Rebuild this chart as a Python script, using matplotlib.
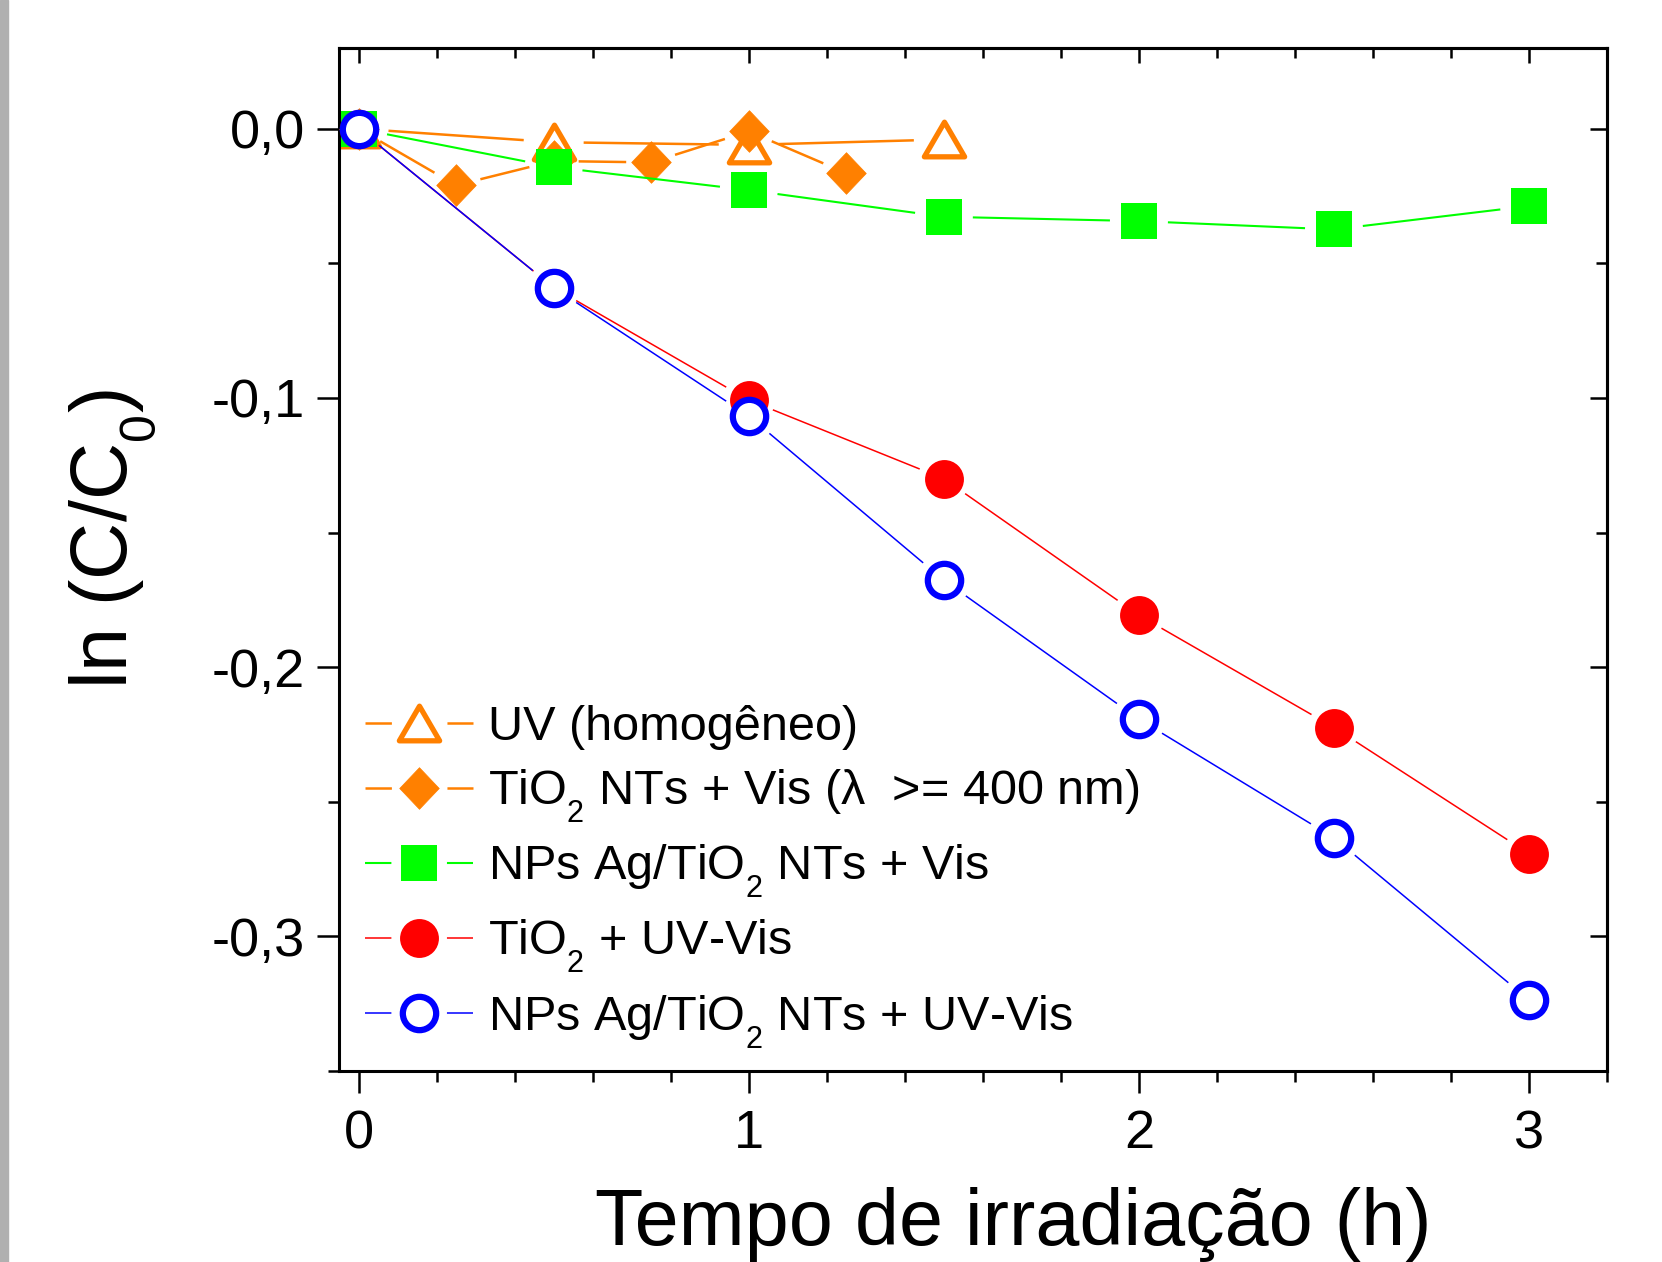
import numpy as np
import matplotlib
matplotlib.use("Agg")
import matplotlib.pyplot as plt
from matplotlib.lines import Line2D
from matplotlib.path import Path
from matplotlib.patches import Rectangle
from matplotlib.ticker import MultipleLocator, FuncFormatter

plt.rcParams['font.family'] = ['Liberation Sans', 'DejaVu Sans']
plt.rcParams['mathtext.fontset'] = 'custom'
plt.rcParams['mathtext.rm'] = 'Liberation Sans'
plt.rcParams['mathtext.it'] = 'Liberation Sans:italic'
plt.rcParams['lines.scale_dashes'] = False

# Origin puts its subscripts smaller and lower than mathtext does
try:
    import matplotlib._mathtext as _mt
    _mt.SHRINK_FACTOR = 0.63
    _mt.FontConstantsBase.sub1 = 0.7
except Exception:
    pass

# values
t_uv = [0, 0.5, 1.0, 1.5]
uv_homog = [0.0, -0.005, -0.006, -0.004]
t_nts_vis = [0, 0.25, 0.5, 0.75, 1.0, 1.25]
nts_vis = [0.0, -0.021, -0.012, -0.0125, -0.001, -0.0165]
t_full = [0, 0.5, 1.0, 1.5, 2.0, 2.5, 3.0]
ag_vis = [0.0, -0.0142, -0.0228, -0.0327, -0.0343, -0.0374, -0.0287]
tio2_uvvis = [0.0, -0.059, -0.1008, -0.130, -0.1807, -0.2224, -0.2693]
ag_uvvis = [0.0, -0.059, -0.1067, -0.1677, -0.2193, -0.2634, -0.3236]

labels = ["UV (homogêneo)",
          r"TiO$_\mathregular{2}$ NTs + Vis (λ  >= 400 nm)",
          r"NPs Ag/TiO$_\mathregular{2}$ NTs + Vis",
          r"TiO$_\mathregular{2}$ + UV-Vis",
          r"NPs Ag/TiO$_\mathregular{2}$ NTs + UV-Vis"]

orange = '#FF8000'
green = '#00FF00'
red = '#FF0000'
blue = '#0000FF'

# marker shapes
tri = Path([(0, 0.86), (-1, -0.86), (1, -0.86), (0, 0.86)],
           [Path.MOVETO, Path.LINETO, Path.LINETO, Path.CLOSEPOLY])
dia = Path([(0, 1), (0.95, 0), (0, -1), (-0.95, 0), (0, 1)],
           [Path.MOVETO, Path.LINETO, Path.LINETO, Path.LINETO, Path.CLOSEPOLY])

fig = plt.figure(figsize=(16.62, 12.62), dpi=100)
fig.patches.append(Rectangle((0, 0), 8 / 1662, 1, transform=fig.transFigure,
                             color='#b0b0b0', zorder=0))
ax = fig.add_axes([0.204, 0.1513, 0.763, 0.8107])
ax.set_xlim(-0.05, 3.2)
ax.set_ylim(-0.35, 0.03)


def gapped(x, y, gap, **kw):
    # Origin style line: segments stop short of the symbols
    pts = ax.transData.transform(np.column_stack([x, y]))
    inv = ax.transData.inverted()
    for p0, p1 in zip(pts[:-1], pts[1:]):
        d = p1 - p0
        L = np.hypot(*d)
        if L <= 2 * gap:
            continue
        u = d / L
        seg = inv.transform([p0 + u * gap, p1 - u * gap])
        ax.plot(seg[:, 0], seg[:, 1], solid_capstyle='butt', **kw)


series = [
    (t_uv, uv_homog, orange, dict(marker=tri, ms=29, mfc='white', mec=orange, mew=3.8), 1.8, 30),
    (t_nts_vis, nts_vis, orange, dict(marker=dia, ms=30, mfc=orange, mec=orange, mew=0.5), 1.8, 25),
    (t_full, ag_vis, green, dict(marker='s', ms=26, mfc=green, mec=green, mew=0), 1.5, 29),
    (t_full, tio2_uvvis, red, dict(marker='o', ms=28, mfc=red, mec=red, mew=0), 1.1, 26),
    (t_full, ag_uvvis, blue, dict(marker='o', ms=24, mfc='white', mec=blue, mew=4.5), 1.1, 27),
]

handles = []
z = 2
for x, y, c, mk, lw, gap in series:
    gapped(x, y, gap, color=c, lw=lw, zorder=z)
    ax.plot(x, y, ls='none', zorder=z + 0.5, **mk)
    z += 1
    seg = Line2D([], [], color=c, lw=lw, dashes=(19, 40, 19, 200))
    sym = Line2D([], [], ls='none', **mk)
    handles.append((seg, sym))

ax.legend(handles, labels, loc='upper left', bbox_to_anchor=(0.0205, 0.358),
          frameon=False, fontsize=35, handlelength=2.23, handletextpad=0.29,
          labelspacing=0.37, borderpad=0, borderaxespad=0)

# axes styling
for s in ax.spines.values():
    s.set_linewidth(2.2)
ax.xaxis.set_major_locator(MultipleLocator(1))
ax.xaxis.set_minor_locator(MultipleLocator(0.2))
ax.yaxis.set_major_locator(MultipleLocator(0.1))
ax.yaxis.set_minor_locator(MultipleLocator(0.05))
ax.yaxis.set_major_formatter(FuncFormatter(lambda v, p: f"{v:.1f}".replace('.', ',').replace('-0,0', '0,0')))
ax.tick_params(which='both', direction='out', width=1.8, labelsize=39,
               top=False, right=False)
ax.tick_params(which='major', length=15.5)
ax.tick_params(which='minor', length=8)
ax.tick_params(axis='y', pad=9)
ax.tick_params(axis='x', pad=12)

# inward ticks on top / right
sec_x = ax.secondary_xaxis('top')
sec_x.xaxis.set_major_locator(MultipleLocator(1))
sec_x.xaxis.set_minor_locator(MultipleLocator(0.2))
sec_x.tick_params(which='both', direction='in', width=1.8, labeltop=False)
sec_x.tick_params(which='major', length=11)
sec_x.tick_params(which='minor', length=7)
sec_x.spines['top'].set_linewidth(2.2)
sec_y = ax.secondary_yaxis('right')
sec_y.yaxis.set_major_locator(MultipleLocator(0.1))
sec_y.yaxis.set_minor_locator(MultipleLocator(0.05))
sec_y.tick_params(which='both', direction='in', width=1.8, labelright=False)
sec_y.tick_params(which='major', length=12)
sec_y.tick_params(which='minor', length=8)
sec_y.spines['right'].set_linewidth(2.2)

ax.set_xlabel("Tempo de irradiação (h)", fontsize=57)
ax.xaxis.set_label_coords(0.5315, -0.113)
ax.set_ylabel(r"ln (C/C$_\mathregular{0}$)", fontsize=57)
ax.yaxis.set_label_coords(-0.143, 0.52)

fig.savefig("out.png", dpi=100)
